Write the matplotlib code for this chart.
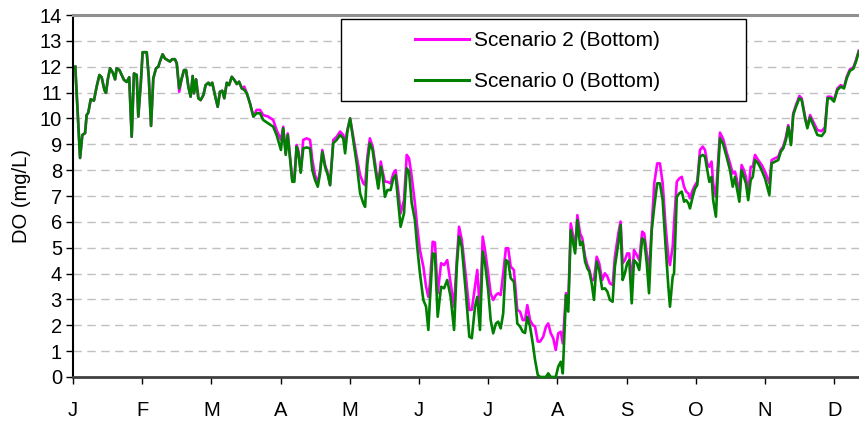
import matplotlib
matplotlib.use("Agg")
import matplotlib.pyplot as plt
from matplotlib.patches import Rectangle

plt.rcParams['font.family'] = ['Liberation Sans', 'DejaVu Sans']

months = ['J', 'F', 'M', 'A', 'M', 'J', 'J', 'A', 'S', 'O', 'N', 'D']

days = [
    1.0, 3.1, 4.1, 5.3, 6.0, 6.7, 7.8, 9.2, 10.4, 11.6,
    12.6, 13.8, 14.5, 15.3, 16.3, 17.5, 18.5, 19.2, 20.4, 21.4,
    22.4, 23.6, 24.7, 25.8, 26.8, 28.0, 28.7, 29.8, 30.6, 32.4,
    33.3, 34.3, 35.3, 36.5, 37.5, 38.2, 39.4, 40.4, 41.5, 42.6,
    43.6, 44.8, 45.6, 46.7, 47.8, 48.8, 49.7, 50.7, 51.7, 52.6,
    53.2, 54.1, 55.1, 56.1, 57.3, 58.3, 59.5, 60.2, 61.2, 62.4,
    63.6, 64.6, 65.6, 66.5, 67.6, 68.6, 69.8, 70.9, 72.0, 73.0,
    74.2, 75.3, 76.4, 77.8, 79.3, 80.7, 82.2, 83.6, 85.8, 88.0,
    89.5, 91.4, 92.4, 93.5, 94.4, 96.4, 97.3, 98.3, 99.0, 100.1,
    101.2, 102.7, 104.2, 105.2, 106.4, 107.6, 108.6, 109.6, 110.8, 112.0,
    113.0, 114.4, 115.9, 117.4, 118.8, 119.6, 120.6, 121.8, 123.2, 124.7,
    126.2, 127.6, 128.4, 129.4, 130.5, 131.7, 132.7, 134.2, 135.3, 136.1,
    137.1, 138.2, 139.6, 140.8, 141.8, 143.0, 144.0, 145.5, 146.7, 147.7,
    148.9, 150.3, 151.3, 152.5, 154.0, 155.2, 156.2, 156.9, 158.1, 159.1,
    160.3, 161.8, 163.1, 164.5, 166.0, 167.5, 168.7, 169.7, 170.9, 172.7,
    174.2, 175.3, 176.7, 177.7, 178.9, 180.1, 181.1, 182.5, 183.6, 184.7,
    185.9, 186.9, 188.0, 189.1, 190.3, 191.3, 192.4, 193.8, 195.3, 196.5,
    197.7, 198.7, 199.7, 200.9, 202.1, 203.1, 204.3, 205.3, 206.7, 207.9,
    208.9, 210.0, 211.1, 212.2, 213.3, 214.4, 215.3, 216.7, 217.7, 218.8,
    219.9, 220.7, 221.7, 222.9, 223.9, 225.1, 226.1, 227.0, 228.0, 229.0,
    230.2, 231.3, 232.6, 233.8, 234.9, 236.0, 237.2, 238.2, 239.7, 240.7,
    241.6, 242.6, 243.6, 244.5, 245.6, 246.6, 247.8, 248.9, 250.2, 251.1,
    252.2, 253.2, 254.4, 255.5, 256.8, 258.0, 259.2, 260.5, 261.7, 262.4,
    263.6, 264.2, 265.4, 266.5, 267.6, 268.6, 269.5, 270.5, 271.2, 272.4,
    273.4, 274.4, 275.6, 276.8, 277.8, 278.8, 279.7, 280.7, 281.4, 282.6,
    283.4, 284.4, 285.8, 287.3, 288.8, 290.0, 291.0, 291.7, 292.9, 293.9,
    294.9, 295.8, 296.8, 297.9, 298.8, 299.8, 301.2, 302.7, 304.2, 306.1,
    307.1, 308.6, 310.0, 311.1, 312.2, 313.4, 314.4, 315.6, 316.6, 317.8,
    319.3, 320.3, 321.8, 322.8, 324.0, 325.4, 327.2, 329.1, 330.5, 331.7,
    333.1, 334.5, 336.0, 337.5, 338.9, 340.1, 341.5, 343.0, 344.2, 345.4,
]

scenario2 = [
    12.0, 8.47, 9.36, 9.43, 10.13, 10.22, 10.74, 10.69, 11.23, 11.68,
    11.59, 11.1, 10.99, 11.51, 11.94, 11.77, 11.51, 11.94, 11.87, 11.68,
    11.49, 11.41, 11.59, 9.29, 11.74, 11.68, 10.07, 11.36, 12.56, 12.56,
    11.61, 9.71, 11.55, 11.94, 12.0, 12.2, 12.48, 12.32, 12.26, 12.2,
    12.29, 12.29, 12.13, 11.03, 11.55, 11.87, 11.87, 11.23, 10.84, 11.64,
    10.97, 11.51, 10.78, 10.71, 10.9, 11.29, 11.38, 11.29, 11.38, 10.9,
    10.45, 11.03, 11.07, 10.78, 11.38, 11.29, 11.61, 11.49, 11.33, 11.42,
    11.16, 11.23, 10.97, 10.58, 10.07, 10.33, 10.33, 10.13, 10.07, 9.94,
    9.55, 9.17, 9.68, 8.65, 9.42, 7.62, 7.7, 8.97, 8.78, 7.94,
    9.17, 9.23, 9.17, 8.39, 7.81, 7.49, 8.0, 8.78, 8.2, 7.87,
    7.42, 9.17, 9.29, 9.49, 9.36, 9.04, 9.55, 10.0, 9.29, 8.52,
    7.81, 7.49, 7.42, 8.52, 9.23, 8.91, 8.33, 7.42, 8.33, 7.94,
    7.55, 7.55, 7.49, 7.87, 8.0, 7.17, 6.33, 6.84, 8.59, 8.46,
    7.74, 6.72, 5.81, 4.91, 4.27, 3.49, 3.1, 3.62, 5.23, 5.2,
    3.24, 4.4, 4.33, 4.52, 3.62, 2.72, 4.52, 5.81, 5.3, 3.88,
    2.59, 2.6, 3.49, 4.14, 2.46, 5.43, 4.91, 4.01, 3.23, 2.98,
    3.17, 3.24, 3.17, 4.01, 4.98, 4.98, 4.27, 4.14, 2.59, 2.53,
    2.2, 2.2, 2.78, 2.2, 2.01, 1.95, 1.37, 1.37, 1.56, 1.95,
    2.07, 1.69, 1.5, 1.04, 1.69, 1.75, 1.3, 3.24, 2.85, 5.94,
    5.43, 4.91, 6.26, 5.55, 5.36, 4.65, 4.33, 4.14, 3.75, 3.75,
    4.65, 4.4, 3.75, 4.01, 3.88, 3.62, 3.56, 4.65, 5.55, 6.01,
    4.4, 4.52, 4.78, 4.78, 3.62, 4.91, 4.72, 4.52, 5.62, 5.55,
    4.78, 4.01, 5.81, 7.49, 8.26, 8.26, 7.49, 5.81, 4.65, 4.33,
    5.04, 5.94, 7.55, 7.68, 7.74, 7.36, 7.17, 7.1, 6.91, 7.23,
    7.42, 7.55, 8.78, 8.91, 8.78, 8.26, 8.13, 8.33, 7.49, 6.97,
    8.13, 9.45, 9.2, 8.7, 8.26, 7.87, 7.94, 7.68, 7.1, 8.2,
    8.0, 7.74, 7.1, 8.13, 8.13, 8.59, 8.39, 8.2, 7.94, 7.49,
    8.39, 8.46, 8.52, 8.78, 8.91, 9.29, 9.74, 9.04, 10.2, 10.52,
    10.87, 10.78, 10.07, 9.68, 10.13, 9.87, 9.55, 9.51, 9.65, 10.84,
    10.84, 10.71, 11.16, 11.29, 11.2, 11.61, 11.9, 11.97, 12.26, 12.62,
]

scenario0 = [
    12.0, 8.47, 9.36, 9.43, 10.13, 10.22, 10.74, 10.69, 11.23, 11.68,
    11.59, 11.1, 10.99, 11.51, 11.94, 11.77, 11.51, 11.94, 11.87, 11.68,
    11.49, 11.41, 11.59, 9.29, 11.74, 11.68, 10.07, 11.36, 12.56, 12.56,
    11.61, 9.71, 11.55, 11.94, 12.0, 12.2, 12.48, 12.32, 12.26, 12.2,
    12.29, 12.29, 12.13, 11.16, 11.55, 11.87, 11.87, 11.23, 10.84, 11.64,
    10.97, 11.51, 10.78, 10.71, 10.9, 11.29, 11.38, 11.29, 11.38, 10.9,
    10.45, 11.03, 11.07, 10.78, 11.38, 11.29, 11.61, 11.49, 11.33, 11.42,
    11.16, 11.1, 10.97, 10.58, 10.07, 10.2, 10.2, 9.94, 9.81, 9.68,
    9.36, 8.78, 9.62, 8.59, 9.36, 7.55, 7.55, 8.9, 8.7, 7.9,
    8.84, 8.88, 8.84, 8.0, 7.62, 7.36, 7.88, 8.7, 8.13, 7.81,
    7.42, 9.04, 9.17, 9.36, 9.23, 8.65, 9.5, 10.0, 9.17, 8.26,
    7.1, 6.72, 6.58, 8.26, 9.04, 8.78, 8.13, 7.29, 8.13, 7.81,
    6.97, 7.23, 7.23, 7.68, 7.81, 6.72, 5.81, 6.33, 8.07, 7.94,
    6.72, 6.07, 5.04, 4.01, 2.98, 2.72, 1.82, 2.98, 4.78, 4.75,
    2.33, 3.49, 3.43, 3.75, 3.1, 1.82, 4.27, 5.43, 5.04, 3.24,
    1.56, 1.5, 2.72, 3.1, 1.82, 4.85, 4.4, 3.36, 2.2, 1.69,
    2.07, 2.14, 1.88, 2.46, 4.52, 4.46, 3.82, 3.69, 2.07, 1.95,
    1.75, 1.7, 2.33, 1.95, 1.3, 0.66, 0.08, 0.0, 0.0, 0.0,
    0.14, 0.0, 0.0, 0.0, 0.4, 0.59, 0.14, 3.17, 2.53, 5.68,
    5.17, 4.78, 6.07, 5.1, 5.23, 4.46, 4.2, 4.07, 3.62, 2.98,
    4.46, 4.14, 3.4, 3.43, 3.3, 2.98, 2.91, 4.27, 5.17, 5.88,
    3.75, 4.01, 4.4, 4.52, 2.85, 4.52, 4.4, 4.14, 5.36, 5.3,
    4.4, 3.24, 5.68, 6.58, 7.49, 7.49, 6.84, 5.04, 3.49, 2.72,
    3.88, 4.01, 6.97, 7.1, 7.17, 6.78, 6.84, 6.72, 6.52, 6.97,
    7.29, 7.42, 8.52, 8.59, 8.52, 8.0, 7.55, 7.74, 6.84, 6.2,
    7.74, 9.23, 9.0, 8.52, 8.0, 7.36, 7.74, 7.36, 6.78, 8.0,
    7.74, 7.49, 6.84, 7.62, 7.74, 8.39, 8.26, 8.0, 7.68, 7.04,
    8.26, 8.33, 8.39, 8.71, 8.84, 9.17, 9.68, 8.97, 10.13, 10.45,
    10.78, 10.71, 10.0, 9.62, 10.04, 9.74, 9.36, 9.32, 9.49, 10.78,
    10.78, 10.65, 11.1, 11.23, 11.16, 11.55, 11.84, 11.92, 12.2, 12.58,
]

labels = ['Scenario 2 (Bottom)', 'Scenario 0 (Bottom)']

W, H = 859, 421
fig = plt.figure(figsize=(W / 100, H / 100), dpi=100)
ax = fig.add_axes([73 / W, 1 - 377 / H, 1 - 73 / W, (377 - 15) / H])

ax.plot(days, scenario2, color='#ff00ff', lw=1.9, label=labels[0], zorder=3, clip_on=False)
ax.plot(days, scenario0, color='#008000', lw=1.9, label=labels[1], zorder=4, clip_on=False)

month_len = 365 / 12
ax.set_xlim(0, 345.5)
ax.set_ylim(0, 14)
ax.set_xticks([i * month_len for i in range(12)])
ax.set_xticklabels(months)
ax.set_yticks(range(0, 15))

ax.grid(axis='y', color='#c0c0c0', linestyle=(0, (6, 4)), lw=1.0)
ax.set_axisbelow(True)

fs = 15
ax.tick_params(axis='both', labelsize=fs - 0.5, direction='out', length=5, width=1, color='black')
ax.tick_params(axis='x', pad=12)
ax.tick_params(axis='y', pad=3)
ax.set_ylabel('DO (mg/L)', fontsize=fs - 0.5, labelpad=6)

ax.spines['right'].set_visible(False)
ax.spines['top'].set_color('#909090')
ax.spines['top'].set_linewidth(2.2)
ax.spines['left'].set_color('black')
ax.spines['left'].set_linewidth(1.5)
ax.spines['bottom'].set_color('#404040')
ax.spines['bottom'].set_linewidth(2.0)

# legend frame
rect = Rectangle((341 / W, 1 - 101 / H), 405 / W, 82 / H, transform=fig.transFigure,
                 facecolor='white', edgecolor='black', lw=1.0, zorder=6, clip_on=False)
ax.add_patch(rect)
leg = ax.legend(loc='upper left', bbox_to_anchor=(415 / W, 1 - 31 / H),
                bbox_transform=fig.transFigure, frameon=False, fontsize=fs,
                handlelength=2.6, handletextpad=0.25, labelspacing=1.05,
                borderpad=0, borderaxespad=0)
leg.set_zorder(7)
for line in leg.get_lines():
    line.set_linewidth(2.2)

fig.savefig('out.png', dpi=100)
